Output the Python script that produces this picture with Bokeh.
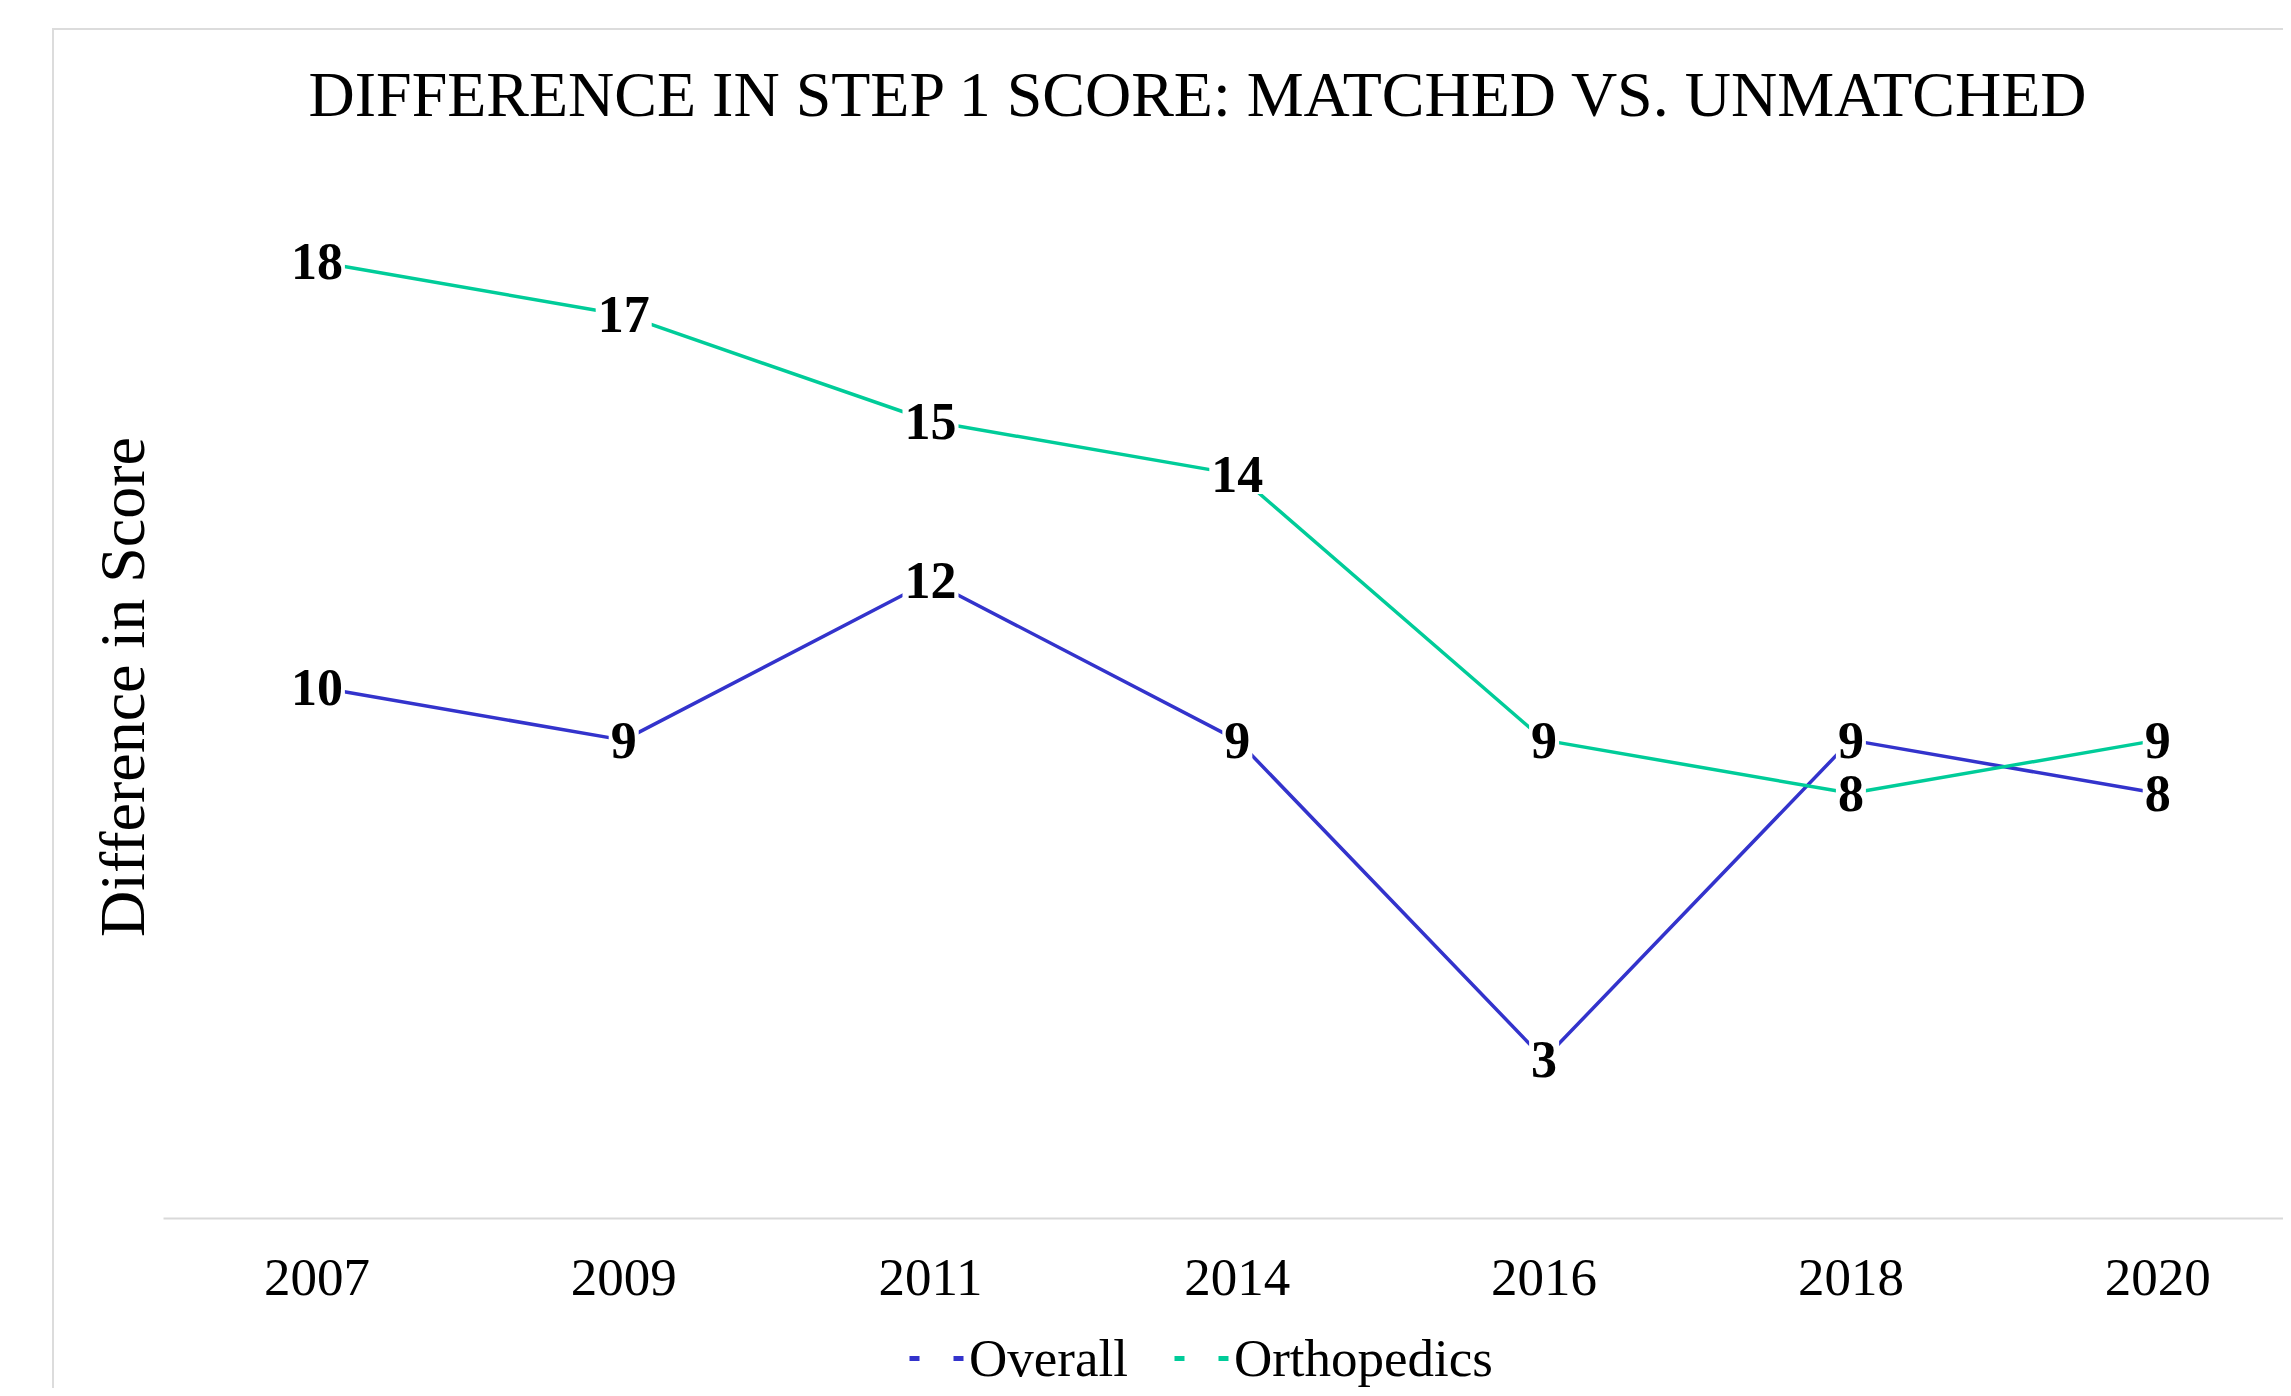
from bokeh.plotting import figure
from bokeh.layouts import column
from bokeh.models import Range1d, FixedTicker, Legend, LegendItem, ColumnDataSource
from bokeh.embed import file_html
from bokeh.resources import INLINE
from bokeh.core.properties import value

# ---- data ----
years = ["2007", "2009", "2011", "2014", "2016", "2018", "2020"]
overall = [10, 9, 12, 9, 3, 9, 8]
orthopedics = [18, 17, 15, 14, 9, 8, 9]
series_names = ["Overall", "Orthopedics"]
series_colors = ["#3333cc", "#00cc99"]
title_text = "DIFFERENCE IN STEP 1 SCORE: MATCHED VS. UNMATCHED"
y_label = "Difference in Score"

FONT = "Liberation Serif"
idx = list(range(len(years)))
nan = float("nan")

p = figure(width=2229, height=1288, output_backend="svg", toolbar_location=None,
           x_range=Range1d(-0.5, 6.41), y_range=Range1d(0, 20),
           title=title_text,
           min_border_left=109, min_border_right=0, min_border_top=124, min_border_bottom=100)

p.title.text_font = FONT
p.title.text_font_size = "64px"
p.title.text_font_style = "normal"
p.title.align = "left"
p.title.offset = 145
p.title.standoff = 52
p.title.text_color = "black"

p.outline_line_color = None
p.xgrid.visible = False
p.ygrid.visible = False
p.background_fill_color = "white"
p.border_fill_color = "white"

# x axis
p.xaxis.ticker = FixedTicker(ticks=idx)
p.xaxis.major_label_overrides = {i: y for i, y in zip(idx, years)}
p.xaxis.major_label_text_font = FONT
p.xaxis.major_label_text_font_size = "53px"
p.xaxis.major_label_text_color = "black"
p.xaxis.axis_line_color = "#d9d9d9"
p.xaxis.axis_line_width = 2
p.xaxis.major_tick_line_color = None
p.xaxis.minor_tick_line_color = None
p.xaxis.major_label_standoff = 35

# y axis
p.yaxis.ticker = FixedTicker(ticks=[])
p.yaxis.axis_line_color = None
p.yaxis.major_tick_line_color = None
p.yaxis.minor_tick_line_color = None
p.yaxis.axis_label = y_label
p.yaxis.axis_label_text_font = FONT
p.yaxis.axis_label_text_font_size = "64px"
p.yaxis.axis_label_text_font_style = "normal"
p.yaxis.axis_label_text_color = "black"
p.yaxis.axis_label_standoff = 6

for vals, col in zip([overall, orthopedics], series_colors):
    src = ColumnDataSource(dict(x=idx, y=vals))
    p.line("x", "y", source=src, line_color=col, line_width=3.5)

for vals in [overall, orthopedics]:
    src = ColumnDataSource(dict(x=idx, y=vals, t=[str(v) for v in vals]))
    p.text("x", "y", text="t", source=src, text_font=value(FONT), text_font_style="bold",
           text_font_size="52px", text_align="center", text_baseline="middle",
           text_color="black", background_fill_color="white", padding=2)

# ---- legend strip below the chart ----
lg = figure(width=2229, height=70, output_backend="svg", toolbar_location=None,
            x_range=Range1d(0, 1), y_range=Range1d(0, 1),
            x_axis_location=None, y_axis_location=None, min_border=0)
lg.outline_line_color = None
lg.xgrid.visible = False
lg.ygrid.visible = False
lg.border_fill_color = "white"

items = []
for name, col in zip(series_names, series_colors):
    dummy = lg.line(x=[nan], y=[nan], line_color=col, line_width=5, line_dash="10 34")
    items.append(LegendItem(label=name, renderers=[dummy]))

legend = Legend(items=items, orientation="horizontal", location=(746, 0),
                glyph_width=55, glyph_height=40, label_text_font=FONT,
                label_text_font_size="53px", label_text_color="black",
                label_standoff=5, spacing=46,
                padding=0, margin=0, border_line_color=None, background_fill_alpha=0)
lg.add_layout(legend, "center")

layout = column(p, lg, spacing=0)
layout.styles = {"margin-left": "52px", "margin-top": "28px",
                 "border-left": "2px solid #dcdcdc", "border-top": "2px solid #dcdcdc"}

open("out.html", "w").write(file_html(layout, INLINE))
